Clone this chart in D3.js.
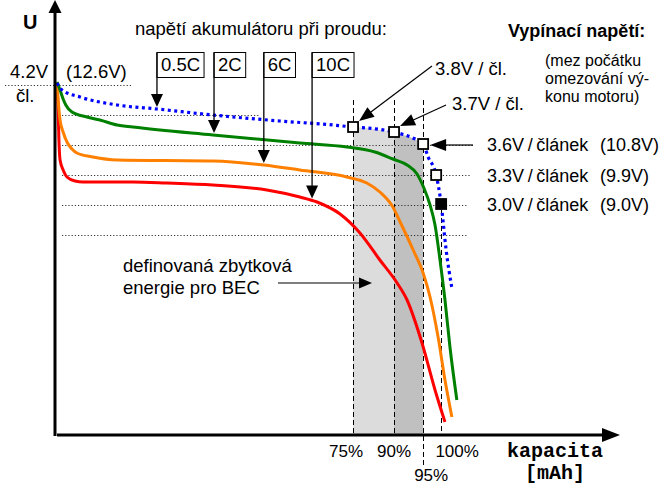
<!DOCTYPE html>
<html><head><meta charset="utf-8">
<script src="https://cdn.jsdelivr.net/npm/d3@7"></script>
<style>body{margin:0;background:#fff}svg{display:block}text{font-family:"Liberation Sans",Arial,sans-serif;fill:#000}</style>
</head><body><svg id="c" width="670" height="486"></svg>
<script>
// ---- data (capacity in %, voltage per cell) ----
const rates = ["0.5C", "2C", "6C", "10C"];
const rateColors = ["#0000ff", "#008000", "#ff8000", "#ff0000"];
const curve05C = [[0,4.22],[1.3,4.15],[6.0,4.08],[15.7,4.00],[26.1,3.96],[40.7,3.90],[58.2,3.84],[72.1,3.80],[77.3,3.78],[81,3.77],[88.0,3.73],[92.9,3.67],[95.6,3.61],[96.9,3.48],[99.0,3.30],[100.3,3.01],[101.6,2.55],[103.1,2.17]];
const curve2C = [[0,4.23],[0.8,4.15],[1.6,4.06],[2.3,4.00],[3.9,3.93],[7.8,3.88],[11.2,3.85],[15.7,3.80],[19.8,3.78],[40.7,3.70],[63.4,3.62],[75.7,3.58],[83.0,3.53],[87.7,3.46],[91.4,3.40],[94.0,3.31],[95.8,3.17],[97.4,3.00],[98.7,2.80],[100.0,2.45],[101.3,2.05],[102.6,1.58],[104.4,1.05]];
const curve6C = [[0,4.21],[0.3,4.05],[0.8,3.85],[1.6,3.73],[2.6,3.63],[3.9,3.56],[5.2,3.52],[9.4,3.48],[15.7,3.45],[40.7,3.44],[54.0,3.40],[63.4,3.35],[75.7,3.28],[80.9,3.22],[84.3,3.13],[87.7,2.98],[89.6,2.83],[93.0,2.55],[95.6,2.32],[97.4,2.08],[99.5,1.68],[101.3,1.25],[103.1,0.88]];
const curve10C = [[0,4.20],[0.3,3.95],[0.5,3.65],[0.8,3.45],[1.6,3.35],[2.6,3.28],[4.7,3.24],[6.8,3.23],[19.8,3.23],[28.7,3.22],[40.7,3.20],[54.8,3.15],[63.4,3.08],[67.9,3.03],[73.9,2.91],[79.1,2.72],[84.3,2.45],[88.8,2.22],[91.4,2.05],[95.3,1.62],[98.7,1.15],[101.3,0.83]];
const curves = [curve05C, curve2C, curve6C, curve10C];
const rateArrowCap = [26.1, 41.0, 54.0, 66.6];
const refLevels = [4.2, 3.9, 3.6, 3.3, 3.0, 2.7];
const cutoffVolts = ["3.8V / čl.", "3.7V / čl.", "3.6V\u2009/\u2009článek", "3.3V\u2009/\u2009článek", "3.0V\u2009/\u2009článek"];
const cutoffPack = ["", "", "(10.8V)", "(9.9V)", "(9.0V)"];
const cutoffPoints = [[77.3,3.78],[88.0,3.73],[95.6,3.61],[99.0,3.30],[100.3,3.01]];
const capMarks = [77.3, 88.0, 95.6, 100.3];
const capLabels = ["75%", "90%", "95%", "100%"];

// ---- layout ----
const svg = d3.select("#c");
const x = d3.scaleLinear().domain([0, 100]).range([57, 440]);
const y = d3.scaleLinear().domain([0.7, 5.05]).range([435, 0]);
const F = 18.5;

function tri(g, x2, y2, ang, len, w, fill) {
  const bx = x2 - len*Math.cos(ang), by = y2 - len*Math.sin(ang);
  const px = -Math.sin(ang)*w/2, py = Math.cos(ang)*w/2;
  g.append("path").attr("d", `M${x2},${y2}L${bx+px},${by+py}L${bx-px},${by-py}Z`).attr("fill", fill||"#000");
}
function arrow(g, x1, y1, x2, y2, len, w, sw) {
  const ang = Math.atan2(y2-y1, x2-x1);
  g.append("line").attr("x1", x1).attr("y1", y1).attr("x2", x2 - (len-1)*Math.cos(ang)).attr("y2", y2 - (len-1)*Math.sin(ang)).attr("stroke", "#000").attr("stroke-width", sw||1);
  tri(g, x2, y2, ang, len, w);
}
function interp(data, c) {
  const i = d3.bisector(d => d[0]).left(data, c);
  if (i <= 0) return data[0][1];
  const a = data[i-1], b = data[i];
  return a[1] + (b[1]-a[1])*(c-a[0])/(b[0]-a[0]);
}

// shaded regions under 0.5C curve
const area = d3.area().x(d => x(d[0])).y0(y(0.7)).y1(d => y(d[1]));
const shadeFills = ["#dcdcdc", "#c0c0c0"];
[[capMarks[0], capMarks[1]], [capMarks[1], capMarks[2]]].forEach((r, i) => {
  const pts = [[r[0], interp(curve05C, r[0])]].concat(curve05C.filter(d => d[0] > r[0] && d[0] < r[1])).concat([[r[1], interp(curve05C, r[1])]]);
  svg.append("path").attr("d", area(pts)).attr("fill", shadeFills[i]);
});

// dotted reference lines
const refExt = [[5, 132], [62, 260], [62, 473], [62, 470], [62, 468], [62, 467]];
refLevels.forEach((v, i) => {
  svg.append("line").attr("x1", refExt[i][0]).attr("x2", refExt[i][1]).attr("y1", y(v)+0.5).attr("y2", y(v)+0.5)
    .attr("stroke", "#333").attr("stroke-width", 1).attr("stroke-dasharray", "1.2,2");
});

// dashed capacity lines
const markTop = [100, 100, 100, y(cutoffPoints[4][1]) + 6];
const markBot = [433, 433, 467, 433];
capMarks.forEach((c, i) => {
  svg.append("line").attr("x1", Math.round(x(c))+0.5).attr("x2", Math.round(x(c))+0.5).attr("y1", markTop[i]).attr("y2", markBot[i])
    .attr("stroke", "#000").attr("stroke-width", 1).attr("stroke-dasharray", "5,3");
});

// curves
const line = d3.line().x(d => x(d[0])).y(d => y(d[1])).curve(d3.curveMonotoneX);
[3, 2, 1].forEach(i => {
  svg.append("path").attr("d", line(curves[i])).attr("fill", "none").attr("stroke", rateColors[i]).attr("stroke-width", 3);
});
svg.append("path").attr("d", line(curve05C)).attr("fill", "none").attr("stroke", rateColors[0]).attr("stroke-width", 3.2).attr("stroke-dasharray", "3,3.5");

// axes
const ax = svg.append("g");
ax.append("line").attr("x1", 55).attr("x2", 55).attr("y1", 436).attr("y2", 10).attr("stroke", "#000").attr("stroke-width", 3);
tri(ax, 55, 0, -Math.PI/2, 13, 13);
ax.append("line").attr("x1", 57).attr("x2", 605).attr("y1", 435).attr("y2", 435).attr("stroke", "#000").attr("stroke-width", 3);
tri(ax, 620, 435, 0, 18, 14);

// cutoff markers
cutoffPoints.forEach((p, i) => {
  svg.append("rect").attr("x", x(p[0]) - 5).attr("y", y(p[1]) - 5).attr("width", 10).attr("height", 10)
    .attr("fill", i === 4 ? "#000" : "#fff").attr("stroke", "#000").attr("stroke-width", 1.8);
});

// rate boxes and arrows
const boxG = svg.append("g");
rates.forEach((r, i) => {
  const bx = x(rateArrowCap[i]);
  const t = boxG.append("text").attr("x", bx + 4).attr("y", 71).attr("font-size", F).text(r);
  const w = t.node().getComputedTextLength();
  boxG.append("rect").attr("x", bx).attr("y", 52.5).attr("width", w + 8).attr("height", 25).attr("fill", "none").attr("stroke", "#000").attr("stroke-width", 1);
  const c = curves[i];
  const tipY = y(interp(c, rateArrowCap[i])) - 2;
  arrow(boxG, bx, 52.5, bx, tipY, 13, 12, 1.3);
});

// leader arrows for cutoff points
const lg = svg.append("g");
const c0 = cutoffPoints[0], c1 = cutoffPoints[1], c2 = cutoffPoints[2];
arrow(lg, 432, 66, x(c0[0]) + 6, y(c0[1]) - 6, 15, 12, 1.2);
arrow(lg, 446, 105, x(c1[0]) + 6, y(c1[1]) - 6, 15, 12, 1.2);
arrow(lg, 473, y(c2[1]) + 1, x(c2[0]) + 7, y(c2[1]) + 1, 16, 12, 1.2);
arrow(lg, 278, 283, 372, 283, 13, 11, 1.2);

// texts
const T = (tx, ty, s, opt) => {
  const e = svg.append("text").attr("x", tx).attr("y", ty).attr("font-size", (opt && opt.size) || F).text(s);
  if (opt && opt.bold) e.attr("font-weight", "bold");
  if (opt && opt.anchor) e.attr("text-anchor", opt.anchor);
  if (opt && opt.family) e.style("font-family", opt.family);
  return e;
};
T(23, 29, "U", {size: 20, bold: true});
T(10, 78, "4.2V");
T(66, 78, "(12.6V)");
T(16, 102, "čl.");
T(135, 35, "napětí akumulátoru při proudu:");
T(508, 37, "Vypínací napětí:", {size: 18, bold: true});
T(545, 66, "(mez počátku", {size: 16});
T(545, 84, "omezování vý-", {size: 16});
T(545, 102, "konu motoru)", {size: 16});
T(435, 75, cutoffVolts[0]);
T(452, 110, cutoffVolts[1]);
[2, 3, 4].forEach(i => {
  T(487, y(cutoffPoints[i][1]) + 7, cutoffVolts[i], {size: 18});
  T(600, y(cutoffPoints[i][1]) + 7, cutoffPack[i], {size: 18});
});
T(123, 272, "definovaná zbytková");
T(123, 294, "energie pro BEC");
const labDx = [-7, 0, 8, 16], labY = [457, 457, 481, 457];
capMarks.forEach((c, i) => T(x(c) + labDx[i], labY[i], capLabels[i], {size: 17, anchor: "middle"}));
T(555, 457, "kapacita", {size: 20, bold: true, anchor: "middle", family: '"Liberation Mono","Courier New",monospace'});
T(555, 479, "[mAh]", {size: 20, bold: true, anchor: "middle", family: '"Liberation Mono","Courier New",monospace'});
</script></body></html>
